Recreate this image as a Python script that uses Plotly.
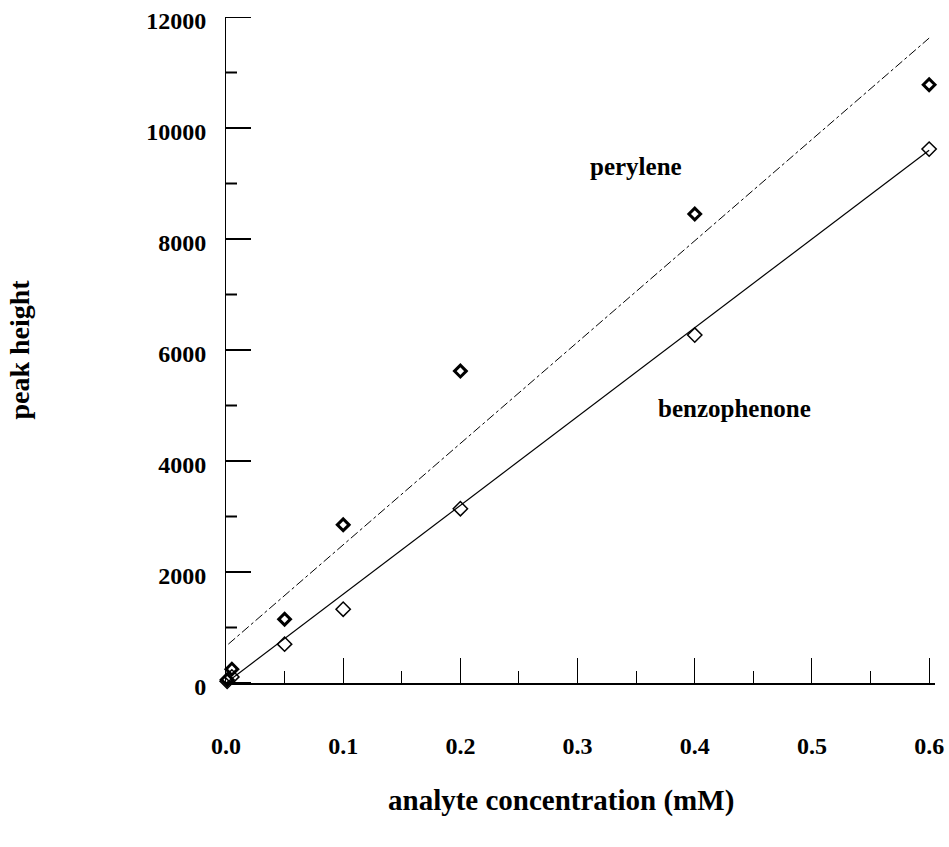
import plotly.graph_objects as go

# concentrations (mM)
conc = [0.001, 0.005, 0.05, 0.1, 0.2, 0.4, 0.6]
# peak heights
perylene = [60, 250, 1150, 2850, 5620, 8450, 10780]
benzophenone = [30, 110, 700, 1330, 3140, 6270, 9620]

# fitted lines (endpoints)
fit_pery_x = [0.002, 0.6]
fit_pery_y = [700, 11620]
fit_benz_x = [0.0, 0.6]
fit_benz_y = [0, 9600]

x_ticks = [0.0, 0.1, 0.2, 0.3, 0.4, 0.5, 0.6]
x_tick_text = ["0.0", "0.1", "0.2", "0.3", "0.4", "0.5", "0.6"]
y_ticks = [0, 2000, 4000, 6000, 8000, 10000, 12000]
y_tick_text = ["0", "2000", "4000", "6000", "8000", "10000", "12000"]
y_minor_ticks = [1000, 3000, 5000, 7000, 9000, 11000]

FONT = "Liberation Serif"
X_RANGE = [0, 0.605]
PLOT_W = 949 - 226 - 14

fig = go.Figure()
fig.add_trace(go.Scatter(x=fit_pery_x, y=fit_pery_y, mode="lines",
                         line=dict(color="black", width=1, dash="dashdot"),
                         showlegend=False, hoverinfo="skip"))
fig.add_trace(go.Scatter(x=fit_benz_x, y=fit_benz_y, mode="lines",
                         line=dict(color="black", width=1.2),
                         showlegend=False, hoverinfo="skip"))
fig.add_trace(go.Scatter(x=conc, y=perylene, mode="markers", name="perylene",
                         marker=dict(symbol="diamond-open", size=9, color="black",
                                     line=dict(width=3, color="black")),
                         cliponaxis=False, showlegend=False))
fig.add_trace(go.Scatter(x=conc, y=benzophenone, mode="markers", name="benzophenone",
                         marker=dict(symbol="diamond-open", size=11, color="black",
                                     line=dict(width=1.5, color="black")),
                         cliponaxis=False, showlegend=False))

# inward y tick marks drawn as short segments from the tick value lists
def tick_segments(values, length_px):
    dx = length_px / PLOT_W * (X_RANGE[1] - X_RANGE[0])
    xs, ys = [], []
    for v in values:
        xs += [X_RANGE[0], X_RANGE[0] + dx, None]
        ys += [v, v, None]
    return xs, ys

mx, my = tick_segments(y_ticks, 25)
fig.add_trace(go.Scatter(x=mx, y=my, mode="lines", line=dict(color="black", width=2),
                         cliponaxis=False, showlegend=False, hoverinfo="skip"))
nx, ny = tick_segments(y_minor_ticks, 11)
fig.add_trace(go.Scatter(x=nx, y=ny, mode="lines", line=dict(color="black", width=2),
                         cliponaxis=False, showlegend=False, hoverinfo="skip"))

fig.add_annotation(x=0.35, y=9300, xref="x", yref="y", text="perylene",
                   showarrow=False, font=dict(family=FONT, size=25, color="black", weight="bold"))
fig.add_annotation(x=0.434, y=4950, xref="x", yref="y", text="benzophenone",
                   showarrow=False, font=dict(family=FONT, size=25, color="black", weight="bold"))
fig.add_annotation(x=0.4725, y=-0.1757, xref="paper", yref="paper",
                   text="analyte concentration (mM)", showarrow=False,
                   xanchor="center", yanchor="middle",
                   font=dict(family=FONT, size=29, color="black", weight="bold"))

fig.update_layout(
    width=949, height=847,
    margin=dict(l=226, r=14, t=17, b=164, autoexpand=False),
    paper_bgcolor="white", plot_bgcolor="white",
    font=dict(family=FONT, size=24, color="black", weight="bold"),
    showlegend=False,
)
fig.update_xaxes(
    range=X_RANGE, tickvals=x_ticks, ticktext=x_tick_text,
    showgrid=False, zeroline=False, showline=True, linecolor="black", linewidth=2,
    ticks="inside", ticklen=25, tickwidth=1, tickcolor="black",
    minor=dict(ticks="inside", ticklen=12, tickwidth=1, tickcolor="black", dtick=0.05, showgrid=False),
    ticklabelstandoff=40,
    tickfont=dict(family=FONT, size=24, color="black", weight="bold"),
    automargin=False,
)
fig.update_yaxes(
    range=[0, 12000], tickvals=y_ticks, ticktext=y_tick_text,
    showgrid=False, zeroline=False, showline=True, linecolor="black", linewidth=1,
    ticks="", ticklabelstandoff=14, ticklabelshift=4,
    tickfont=dict(family=FONT, size=24, color="black", weight="bold"),
    title=dict(text="peak height", standoff=108,
               font=dict(family=FONT, size=28, color="black", weight="bold")),
    automargin=False,
)

fig.write_html("out.html")
